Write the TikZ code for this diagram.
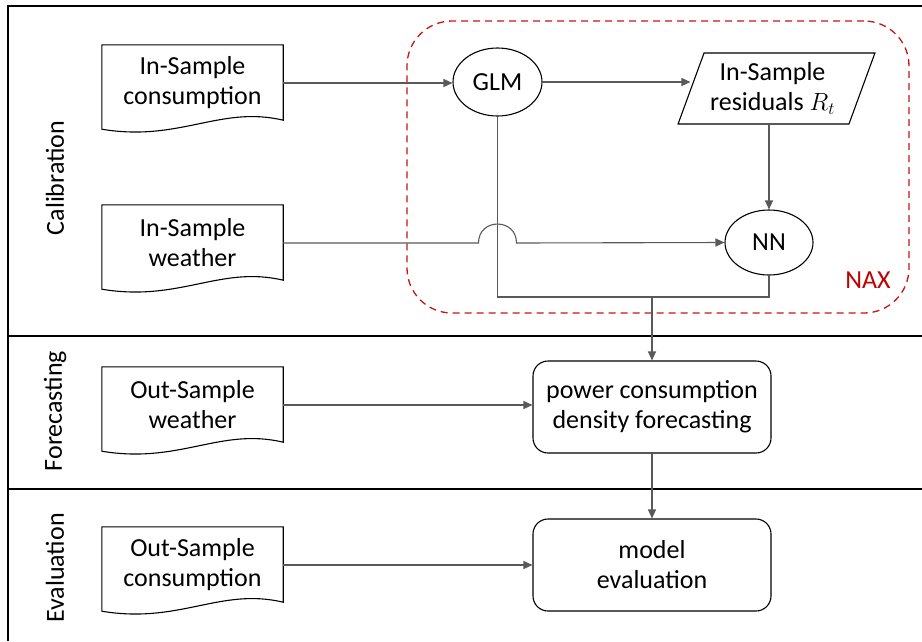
\documentclass[tikz,border=0pt]{standalone}
\usepackage{fontspec}
\setmainfont{Carlito}
\usetikzlibrary{arrows.meta,shapes.geometric,calc}
\definecolor{naxred}{RGB}{200,20,20}
\definecolor{naxtext}{RGB}{192,0,0}
\newcommand{\docoutline}[1]{%
  \draw[docline] (#1.north west) -- (#1.north east) -- ($(#1.south east)+(0,-1)$)
    .. controls ($(#1.south east)+(-63,-16)$) and ($(#1.south west)+(78,21)$) .. ($(#1.south west)+(0,8)$) -- cycle;}
\begin{document}
\begin{tikzpicture}[x=1pt,y=-1pt,
  every node/.style={font=\fontsize{26}{30}\selectfont, align=center},
  docbox/.style={rectangle, draw=none, minimum width=181pt, minimum height=76pt, inner sep=0pt},
  docline/.style={draw=black, line width=1.1pt},
  ellbox/.style={ellipse, draw=black, line width=1.1pt, inner sep=0pt},
  procbox/.style={rectangle, rounded corners=15pt, draw=black, line width=1.1pt, minimum width=238pt, minimum height=92pt, inner sep=0pt},
  parbox/.style={trapezium, trapezium left angle=68, trapezium right angle=112, trapezium stretches=true, draw=black, line width=1.1pt, minimum width=197pt, minimum height=71pt, inner sep=0pt},
  conn/.style={draw=black!65, line width=1.1pt},
  arr/.style={conn, -{Triangle[length=9pt,width=8pt]}},
  frame/.style={draw=black, line width=1.6pt},
  lanelabel/.style={rotate=90}
]
\useasboundingbox (0,0) rectangle (922,641);
% frame and lanes
\draw[frame] (922,6) -- (8,6) -- (8,641);
\draw[frame] (8,336) -- (922,336);
\draw[frame] (8,489) -- (922,489);
\node[lanelabel] (lcal) at (55,178) {Calibration};
\node[lanelabel] (lfor) at (55,411) {Forecasting};
\node[lanelabel] (leva) at (55,568) {Evaluation};
% NAX group
\node[draw=naxred, line width=1.3pt, dash pattern=on 7pt off 5pt, rounded corners=45pt,
      minimum width=502pt, minimum height=292pt] (nax) at (658,167) {};
\node[text=naxtext] (naxlabel) at (868,280) {NAX};
% documents
\node[docbox] (c1) at (192.5,83) {In-Sample\\consumption};
\node[docbox] (c2) at (192.5,243) {In-Sample\\weather};
\node[docbox] (c3) at (192.5,405) {Out-Sample\\weather};
\node[docbox] (c4) at (192.5,565) {Out-Sample\\consumption};
\docoutline{c1}
\docoutline{c2}
\docoutline{c3}
\docoutline{c4}
% process nodes
\node[ellbox, minimum width=89pt, minimum height=68pt] (glm) at (497.5,82) {GLM};
\node[parbox] (res) at (776.5,88.5) {\hspace*{-8pt}In-Sample\\\hspace*{-8pt}residuals $R_t$};
\node[ellbox, minimum width=88pt, minimum height=65pt] (nn) at (769,242.5) {NN};
\node[procbox] (pw) at (652,407) {power consumption\\density forecasting};
\node[procbox] (ev) at (652,565) {model\\evaluation};
% connectors
\coordinate (bt) at (0,297);
\coordinate (jx) at (c2.east -| glm.south);
\coordinate (jn) at (pw.north |- bt);
\draw[arr] (c1.east) -- (c1.east -| glm.west);
\draw[arr] (glm.east) -- (res.west |- glm.east);
\draw[arr] (res.south -| nn.north) -- (nn.north);
\draw[conn] (glm.south) -- (glm.south |- bt) -- (nn.south |- bt) -- (nn.south);
\draw[arr] (c2.east) -- ($(jx)+(-19,0)$)
   .. controls ($(jx)+(-19,-25.3)$) and ($(jx)+(19,-25.3)$) .. ($(jx)+(19,0)$) -- (nn.west);
\draw[arr] (jn) -- (pw.north);
\draw[arr] (c3.east) -- (c3.east -| pw.west);
\draw[arr] (pw.south) -- (ev.north);
\draw[arr] (c4.east) -- (c4.east -| ev.west);
\end{tikzpicture}
\end{document}
